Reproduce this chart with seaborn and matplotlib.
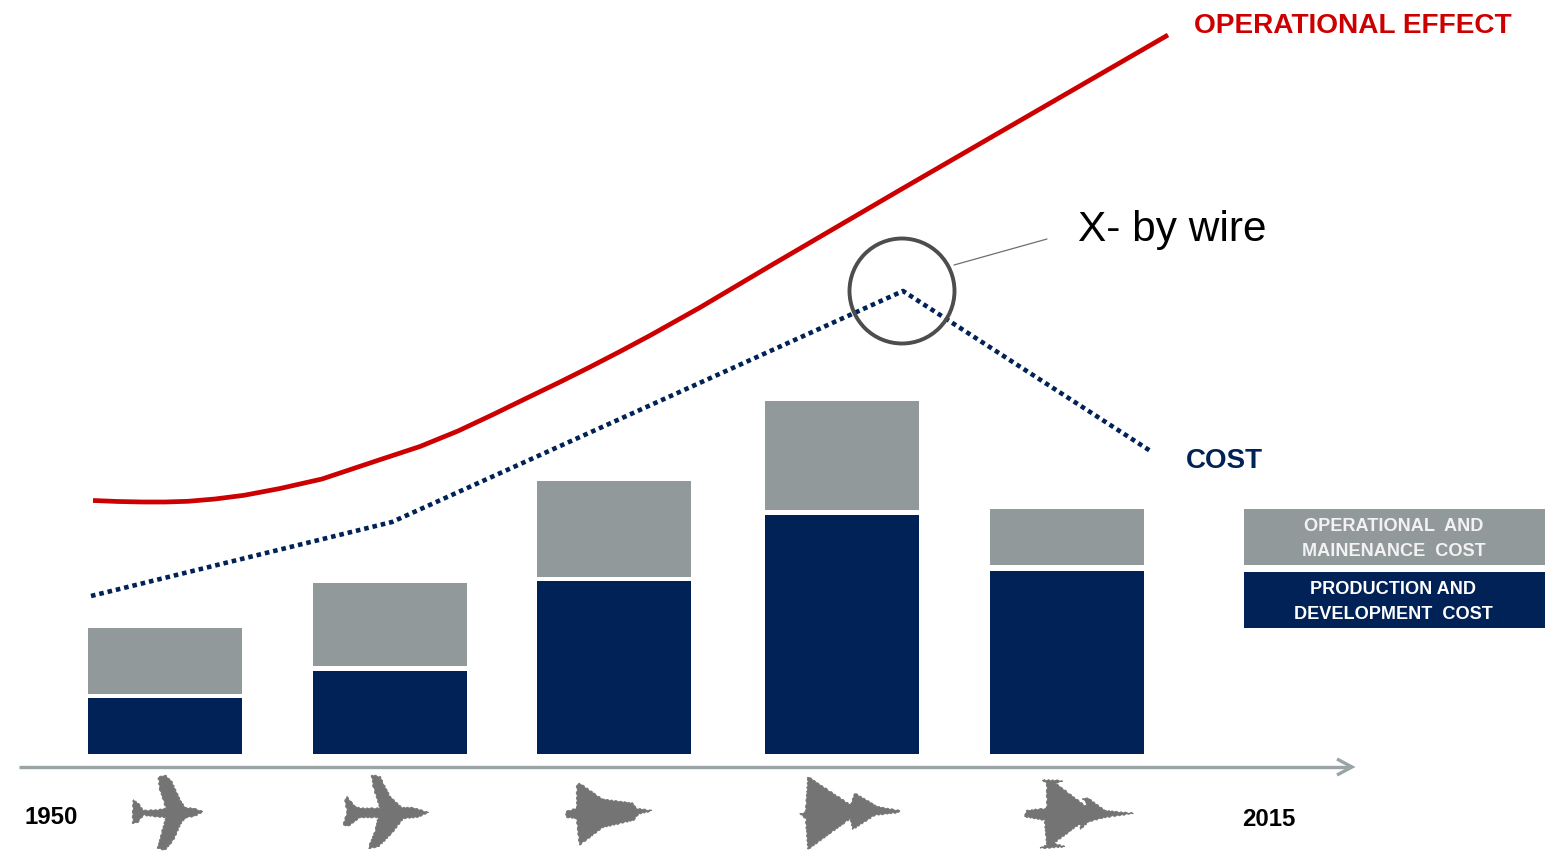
import matplotlib
matplotlib.use("Agg")
import matplotlib.pyplot as plt
from matplotlib.patches import Circle, Polygon, Rectangle
import pandas as pd
import seaborn as sns

# Plot units: one unit is one output pixel, y measured up from the bar baseline.
generations = [165, 390, 614, 841.5, 1067]
production_cost = [56, 83, 173, 239, 183]
total_cost = [126, 171, 273, 353, 245]
bar_gaps = [4, 5, 4, 5, 6]

effect_x = [93, 118, 143, 165, 188, 215, 244, 280, 322, 379, 420, 458, 492, 529, 560, 590, 620, 650, 700, 770, 900, 1040, 1168]
effect_y = [253.5, 252.5, 252, 252, 252.7, 255, 258.7, 265.5, 275, 294, 307.5, 323, 339, 357, 372, 387, 402.5, 418.5, 446.5, 488, 564, 645, 719]
cost_x = [91, 392, 903, 1152]
cost_y = [158, 232, 463, 302]

NAVY = "#002257"
GRAY = "#92999B"
RED = "#CC0000"
PLANE = "#747474"
AXIS = "#9AA3A5"

# Aircraft silhouettes as traced: (x origin, x scale, outline), y always at 3 units per pixel from 740.
aircraft = [
    (0, 3.0, [(608,215),(580,205),(555,203),(540,180),(515,125),(495,105),(475,112),(480,150),
              (498,205),(470,210),(430,212),(415,190),(400,180),(398,250),(412,248),(430,225),
              (470,230),(498,232),(485,280),(473,325),(495,330),(520,300),(545,245),(560,232),(585,228)]),
    (0, 3.0, [(1285,218),(1240,203),(1205,203),(1170,170),(1140,110),(1115,105),(1120,140),(1140,205),
              (1085,205),(1065,200),(1040,170),(1035,185),(1042,215),(1030,255),(1045,258),(1080,232),
              (1135,232),(1125,275),(1105,325),(1135,320),(1175,280),(1210,235),(1250,232)]),
    (500, 2.24, [(340,212),(305,205),(298,190),(230,178),(178,130),(172,135),(172,205),(148,215),
                 (148,232),(172,235),(178,315),(230,262),(300,240),(310,222)]),
    (500, 2.24, [(895,212),(845,200),(795,160),(785,195),(690,110),(685,215),(672,222),(685,235),
                 (690,328),(785,235),(790,268),(840,225),(890,218)]),
    (500, 2.24, [(1418,220),(1355,212),(1318,175),(1305,175),(1318,198),(1308,195),(1245,130),(1260,122),
                 (1215,120),(1225,130),(1225,205),(1180,212),(1175,230),(1220,240),(1225,315),(1210,325),
                 (1265,320),(1240,310),(1300,250),(1300,268),(1318,245),(1355,232)]),
]

sns.set_theme(style="white")
plt.rcParams["font.family"] = ["Liberation Sans", "DejaVu Sans"]

fig = plt.figure(figsize=(15.51, 8.59), dpi=100)
ax = fig.add_axes([0, 0, 1, 1])

frame = pd.DataFrame({
    "generation": generations,
    "total": total_cost,
    "separator": [v + g for v, g in zip(production_cost, bar_gaps)],
    "production": production_cost,
})
bar_width = 154 / 224
for column, colour in [("total", GRAY), ("separator", "white"), ("production", NAVY)]:
    sns.barplot(data=frame, x="generation", y=column, native_scale=True, width=bar_width,
                color=colour, saturation=1, linewidth=0, errorbar=None, ax=ax, zorder=2)

sns.lineplot(x=effect_x, y=effect_y, color=RED, linewidth=3.4, sort=False, errorbar=None,
             ax=ax, zorder=3, solid_capstyle="butt", solid_joinstyle="round")
sns.lineplot(x=cost_x, y=cost_y, color=NAVY, linewidth=3.3, sort=False, errorbar=None,
             linestyle=(0, (1, 0.86)), ax=ax, zorder=3, dash_capstyle="butt")

ax.set_xlim(0, 1551)
ax.set_ylim(-105, 754)
ax.set_axis_off()

# Time axis with an open arrowhead
ax.plot([19, 1350], [-13, -13], color=AXIS, lw=2.4, solid_capstyle="butt", zorder=2)
ax.plot([1337, 1352, 1337], [-5, -13, -21], color=AXIS, lw=2.4, zorder=2,
        solid_joinstyle="miter", solid_capstyle="butt")

# X-by-wire callout
ax.add_patch(Circle((902, 463), 52.5, fill=False, edgecolor="#4D4D4D", linewidth=2.8, zorder=4))
ax.plot([954, 1047], [489, 515], color="#6E6E6E", lw=0.9, zorder=4)
ax.text(1078, 524, "X- by wire", fontsize=30.5, color="black", va="center", ha="left")

ax.text(1194, 728, "OPERATIONAL EFFECT", fontsize=20.2, fontweight="bold", color=RED,
        va="center", ha="left")
ax.text(1186, 293, "COST", fontsize=20, fontweight="bold", color=NAVY, va="center", ha="left")

# Cost key
ax.add_patch(Rectangle((1244, 189), 301, 56, facecolor=GRAY, edgecolor="none"))
ax.add_patch(Rectangle((1244, 126), 301, 56, facecolor=NAVY, edgecolor="none"))
ax.text(1393.5, 215, "OPERATIONAL  AND\nMAINENANCE  COST", fontsize=13.1, fontweight="bold",
        color="#F2F2F2", ha="center", va="center", linespacing=1.58)
ax.text(1393.5, 152, "PRODUCTION AND\nDEVELOPMENT  COST", fontsize=13.1, fontweight="bold",
        color="white", ha="center", va="center", linespacing=1.58)

ax.text(24, -64, "1950", fontsize=17.3, fontweight="bold", color="black", va="center", ha="left")
ax.text(1242, -66, "2015", fontsize=17.3, fontweight="bold", color="black", va="center", ha="left")

for x_origin, x_scale, outline in aircraft:
    points = [(x_origin + px / x_scale, 754 - (740 + py / 3)) for px, py in outline]
    silhouette = Polygon(points, closed=True, facecolor=PLANE, edgecolor=PLANE, linewidth=0.6)
    silhouette.set_sketch_params(scale=0.6, length=5, randomness=2)
    ax.add_patch(silhouette)

fig.savefig("out.png", dpi=100, facecolor="white")
